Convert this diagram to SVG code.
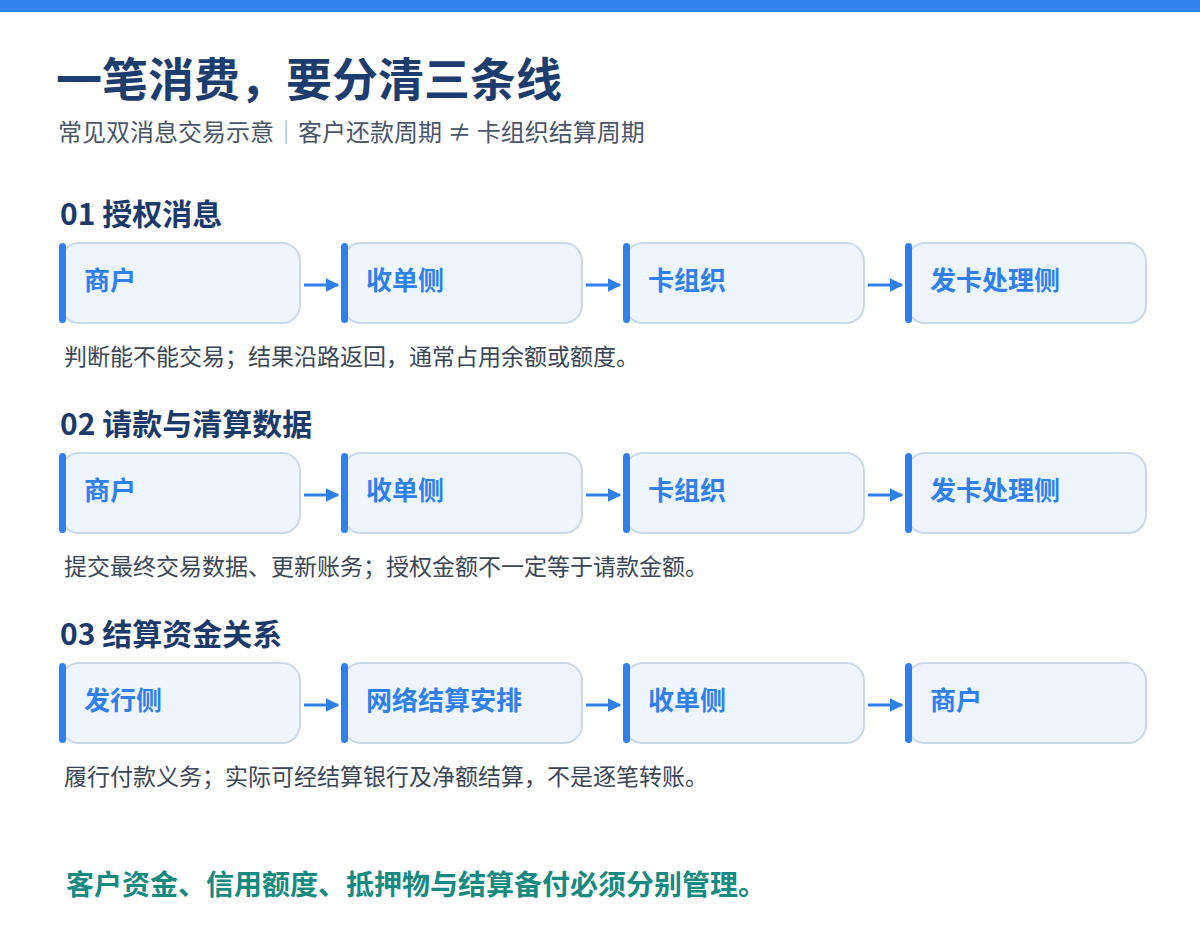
<svg xmlns="http://www.w3.org/2000/svg" width="1200" height="950" viewBox="0 0 1200 950">
<style>
text{font-family:"Noto Sans CJK SC","Noto Sans",sans-serif}
.box{fill:#EEF5FF;stroke:#C9D9EA;stroke-width:2}
.bar{fill:#2F80ED}
.lbl{font-size:26px;font-weight:700;fill:#2F80ED}
.h{font-size:30px;font-weight:700;fill:#1B3A6B}
.d{font-size:23px;fill:#3A4656}
.c{stroke:#2F80ED;stroke-width:3;fill:none;marker-end:url(#ah)}
</style>
<defs>
<marker id="ah" viewBox="0 0 10 10" refX="9" refY="5" markerWidth="4.5" markerHeight="4.5" orient="auto" markerUnits="strokeWidth"><path d="M0,0L10,5L0,10z" fill="#2F80ED"/></marker>
<g id="nb"><rect class="box" x="0" y="0" width="239" height="80" rx="18"/><rect class="bar" x="-2" y="0" width="7" height="80" rx="3.5"/></g>
</defs>
<rect x="0" y="0" width="1200" height="12" fill="#3182EA"/>
<text x="56" y="96" font-size="46" font-weight="700" fill="#1C3D6E">一笔消费，要分清三条线</text>
<text x="58" y="141" font-size="24" fill="#4A5568">常见双消息交易示意<tspan fill="#A0AAB8">｜</tspan>客户还款周期 ≠ 卡组织结算周期</text>

<text class="h" x="60" y="225">01 授权消息</text>
<text class="h" x="60" y="435">02 请款与清算数据</text>
<text class="h" x="60" y="645">03 结算资金关系</text>

<g id="r1n1"><use href="#nb" x="61" y="243"/><text class="lbl" x="84" y="290">商户</text></g>
<g id="r1n2"><use href="#nb" x="343" y="243"/><text class="lbl" x="366" y="290">收单侧</text></g>
<g id="r1n3"><use href="#nb" x="625" y="243"/><text class="lbl" x="648" y="290">卡组织</text></g>
<g id="r1n4"><use href="#nb" x="907" y="243"/><text class="lbl" x="930" y="290">发卡处理侧</text></g>

<g id="r2n1"><use href="#nb" x="61" y="453"/><text class="lbl" x="84" y="500">商户</text></g>
<g id="r2n2"><use href="#nb" x="343" y="453"/><text class="lbl" x="366" y="500">收单侧</text></g>
<g id="r2n3"><use href="#nb" x="625" y="453"/><text class="lbl" x="648" y="500">卡组织</text></g>
<g id="r2n4"><use href="#nb" x="907" y="453"/><text class="lbl" x="930" y="500">发卡处理侧</text></g>

<g id="r3n1"><use href="#nb" x="61" y="663"/><text class="lbl" x="84" y="710">发行侧</text></g>
<g id="r3n2"><use href="#nb" x="343" y="663"/><text class="lbl" x="366" y="710">网络结算安排</text></g>
<g id="r3n3"><use href="#nb" x="625" y="663"/><text class="lbl" x="648" y="710">收单侧</text></g>
<g id="r3n4"><use href="#nb" x="907" y="663"/><text class="lbl" x="930" y="710">商户</text></g>

<g id="connectors">
<path class="c" d="M304,285H338"/><path class="c" d="M586,285H620"/><path class="c" d="M868,285H902"/>
<path class="c" d="M304,495H338"/><path class="c" d="M586,495H620"/><path class="c" d="M868,495H902"/>
<path class="c" d="M304,705H338"/><path class="c" d="M586,705H620"/><path class="c" d="M868,705H902"/>
</g>

<text class="d" x="64" y="365">判断能不能交易；结果沿路返回，通常占用余额或额度。</text>
<text class="d" x="64" y="575">提交最终交易数据、更新账务；授权金额不一定等于请款金额。</text>
<text class="d" x="64" y="785">履行付款义务；实际可经结算银行及净额结算，不是逐笔转账。</text>

<text x="66" y="895" font-size="28" font-weight="700" fill="#168A80">客户资金、信用额度、抵押物与结算备付必须分别管理。</text>
</svg>
